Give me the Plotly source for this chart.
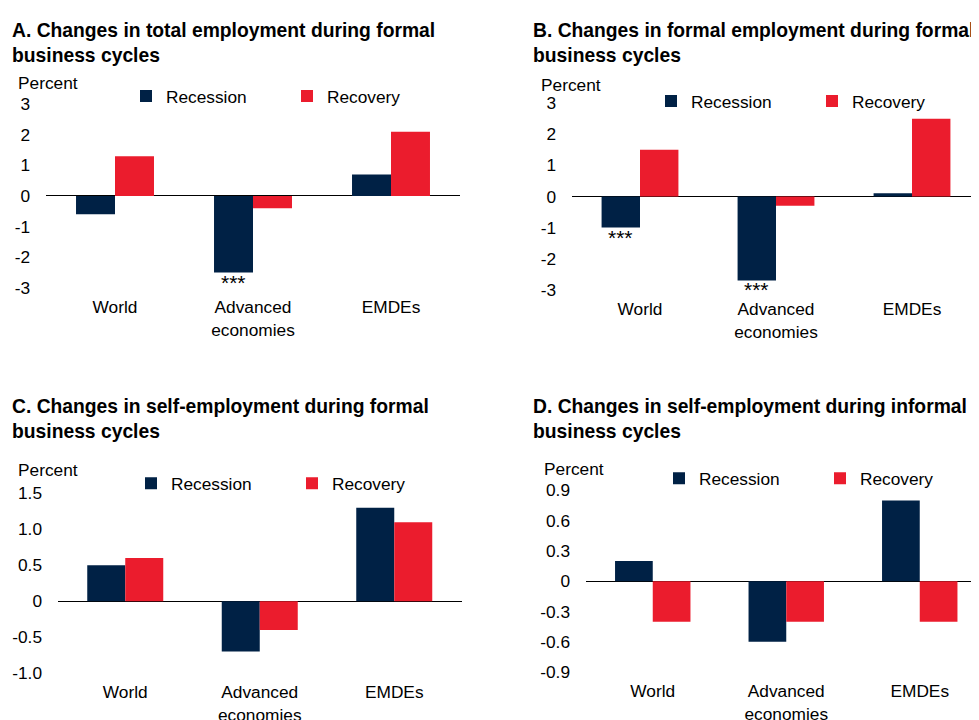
import plotly.graph_objects as go

W, H = 979, 720
# the photographed page is offset and slightly squeezed vertically; positions
# below are given in reference pixels and mapped back to figure pixels
SX, AX = 1.0, 8.0
SY, AY = 0.974, 16.7

categories = ["World", "Advanced<br>economies", "EMDEs"]

# Panel values (percent)
a_recession = [-0.6, -2.5, 0.7]
a_recovery = [1.3, -0.4, 2.1]
b_recession = [-1.0, -2.7, 0.1]
b_recovery = [1.5, -0.3, 2.5]
c_recession = [0.5, -0.7, 1.3]
c_recovery = [0.6, -0.4, 1.1]
d_recession = [0.2, -0.6, 0.8]
d_recovery = [-0.4, -0.4, -0.4]

titles = [
    "<b>A. Changes in total employment during formal<br>business cycles</b>",
    "<b>B. Changes in formal employment during formal<br>business cycles</b>",
    "<b>C. Changes in self-employment during formal<br>business cycles</b>",
    "<b>D. Changes in self-employment during informal<br>business cycles</b>",
]

ticks_ab = [3, 2, 1, 0, -1, -2, -3]
ticktext_ab = ["3", "2", "1", "0", "-1", "-2", "-3"]
ticks_c = [1.5, 1.0, 0.5, 0, -0.5, -1.0]
ticktext_c = ["1.5", "1.0", "0.5", "0", "-0.5", "-1.0"]
ticks_d = [0.9, 0.6, 0.3, 0, -0.3, -0.6, -0.9]
ticktext_d = ["0.9", "0.6", "0.3", "0", "-0.3", "-0.6", "-0.9"]

# significance markers: (panel, category index, series)
stars = [(0, 1, a_recession), (1, 0, b_recession), (1, 1, b_recession)]

NAVY = "#002145"
RED = "#EB1C2D"
FONT = "Liberation Sans, Arial, sans-serif"


def fig_x(p):
    return (p - AX) / SX


def fig_y(p):
    return (p - AY) / SY


def px_x(p):
    return min(max(fig_x(p) / W, 0), 1)


def px_y(p):
    return min(max(1 - fig_y(p) / H, 0), 1)


# reference pixel boxes (left, right, top, bottom) and category spacing
panels = [
    dict(box=(46, 460, 103, 287), step=138, rng=[-3, 3], tv=ticks_ab,
         tt=ticktext_ab, rec=a_recession, recov=a_recovery),
    dict(box=(572, 979, 102, 289), step=136, rng=[-3, 3], tv=ticks_ab,
         tt=ticktext_ab, rec=b_recession, recov=b_recovery),
    dict(box=(58, 462, 493, 673), step=134.5, rng=[-1.0, 1.5], tv=ticks_c,
         tt=ticktext_c, rec=c_recession, recov=c_recovery),
    dict(box=(586, 979, 490, 672), step=133.5, rng=[-0.9, 0.9], tv=ticks_d,
         tt=ticktext_d, rec=d_recession, recov=d_recovery),
]

title_pos = [(10, 8), (531, 8), (10, 393), (531, 393)]
percent_pos = [(16, 82), (539, 84), (16, 470), (542, 469)]
legend_pos = [(150, 95), (675, 100), (155, 483), (683, 478)]

fig = go.Figure()
layout = dict(
    width=W, height=H,
    margin=dict(l=0, r=0, t=0, b=0),
    paper_bgcolor="white", plot_bgcolor="white",
    barmode="group", bargap=0.435,
    font=dict(family=FONT, size=17.3, color="black"),
    annotations=[],
)

for i, p in enumerate(panels):
    n = "" if i == 0 else str(i + 1)
    xa, ya = "x" + n, "y" + n
    lg = "legend" + n
    fig.add_trace(go.Bar(x=categories, y=p["rec"], name="Recession",
                         marker=dict(color=NAVY, line=dict(width=0)),
                         xaxis=xa, yaxis=ya, legend=lg))
    fig.add_trace(go.Bar(x=categories, y=p["recov"], name="Recovery",
                         marker=dict(color=RED, line=dict(width=0)),
                         xaxis=xa, yaxis=ya, legend=lg))
    l, r, t, b = p["box"]
    dom = [px_x(l), px_x(r)]
    span = (dom[1] - dom[0]) * W / (p["step"] / SX)
    layout["xaxis" + n] = dict(
        domain=dom, anchor=ya, range=[-0.5, -0.5 + span],
        showgrid=False, showline=False, ticks="", zeroline=False,
        tickfont=dict(size=17.3), ticklabelstandoff=7,
    )
    layout["yaxis" + n] = dict(
        domain=[px_y(b), px_y(t)], anchor=xa, range=p["rng"],
        tickvals=p["tv"], ticktext=p["tt"], showgrid=False, showline=False,
        ticks="", zeroline=True, zerolinecolor="black", zerolinewidth=1,
        tickfont=dict(size=17.3), ticklabelstandoff=15,
    )
    lx, ly = legend_pos[i]
    layout[lg] = dict(
        orientation="h", x=(fig_x(lx - 5) - 19) / W, y=px_y(ly),
        xanchor="left", yanchor="middle", entrywidth=116,
        entrywidthmode="pixels", font=dict(size=17.3),
        bgcolor="rgba(0,0,0,0)", borderwidth=0,
    )
    tx, ty = title_pos[i]
    layout["annotations"].append(dict(
        text=titles[i], x=px_x(tx), y=px_y(ty), xref="paper", yref="paper",
        xanchor="left", yanchor="top", align="left", showarrow=False,
        font=dict(size=19.3),
    ))
    qx, qy = percent_pos[i]
    layout["annotations"].append(dict(
        text="Percent", x=px_x(qx), y=px_y(qy), xref="paper", yref="paper",
        xanchor="left", yanchor="middle", showarrow=False,
        font=dict(size=17.3),
    ))

for panel, ci, vals in stars:
    n = "" if panel == 0 else str(panel + 1)
    layout["annotations"].append(dict(
        text="***", x=categories[ci], y=vals[ci], xref="x" + n, yref="y" + n,
        xanchor="center", yanchor="top", xshift=-19.5, yshift=4,
        showarrow=False, font=dict(size=21),
    ))

fig.update_layout(**layout)
fig.write_html("out.html")
